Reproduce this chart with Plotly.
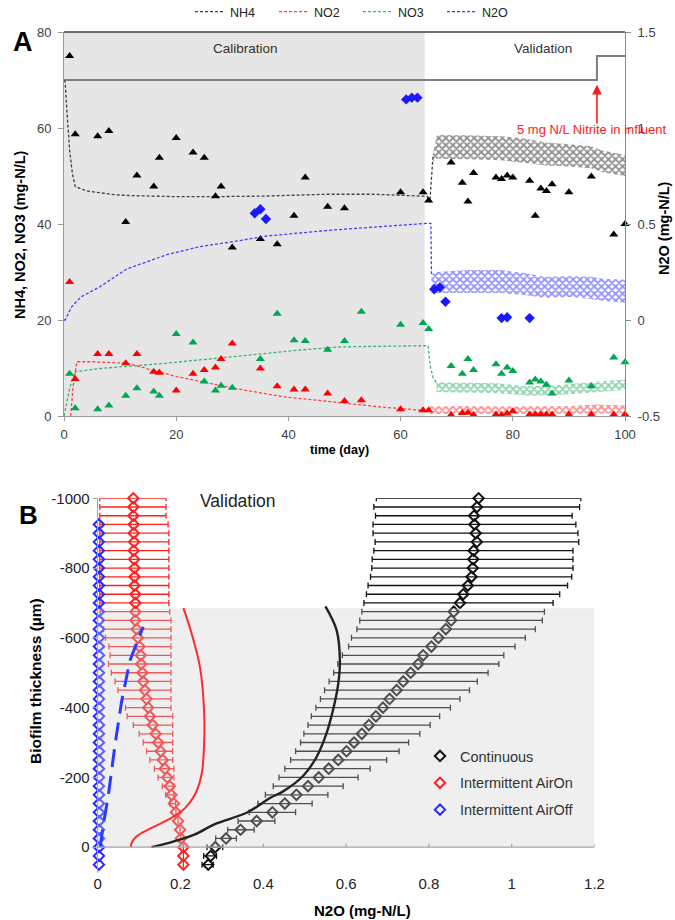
import plotly.graph_objects as go

# ---------------- Panel A data (time in days) ----------------
nh4_day = [1, 2, 6, 8, 11, 13, 16, 17, 20, 23, 25, 27, 28, 30, 35, 38, 41, 43, 47, 50,
           60, 64, 65, 69, 71, 72, 73, 77, 78, 79, 80, 83, 84, 85, 86, 87, 90, 94, 98, 100]
nh4_obs = [75.0, 58.7, 58.3, 59.4, 40.4, 50.1, 47.8, 53.8, 57.9, 54.9, 53.8, 45.8, 47.8, 35.1, 36.9, 35.8, 41.7, 49.7, 43.6, 43.3,
           46.6, 46.6, 44.9, 52.8, 48.6, 44.7, 50.6, 49.7, 49.4, 50.1, 49.7, 49.0, 41.7, 47.4, 46.9, 48.3, 46.6, 49.9, 37.8, 40.0]

nox_day = [1, 2, 6, 8, 11, 13, 16, 17, 20, 23, 25, 27, 28, 30, 35, 38, 41, 43, 47, 50,
           53, 60, 64, 65, 69, 71, 72, 73, 77, 78, 79, 80, 83, 84, 85, 86, 87, 90, 94, 98, 100]
no2_obs = [27.9, 7.7, 12.9, 12.9, 11.0, 12.9, 9.2, 9.0, 5.3, 8.8, 9.6, 10.1, 11.9, 15.1, 9.9, 6.2, 5.5, 5.5, 4.7, 3.1,
           3.3, 1.4, 1.2, 1.2, 0.2, 0.6, 0.7, 0.2, 0.3, 0.2, 0.5, 1.0, 0.3, 0.3, 0.3, 0.3, 0.3, 0.3, 0.3, 0.3, 0.3]
no3_obs = [8.8, 1.6, 1.4, 2.2, 4.2, 5.8, 5.1, 4.2, 17.1, 15.3, 7.2, 5.3, 6.3, 5.9, 11.9, 21.3, 15.8, 15.6, 13.8, 15.6,
           21.7, 19.0, 19.4, 18.1, 10.4, 8.8, 11.9, 9.6, 10.8, 8.8, 10.1, 9.4, 7.0, 7.6, 7.2, 6.5, 4.7, 7.4, 6.2, 12.2, 11.2]

n2o_day = [34, 35, 36, 61, 62, 63, 66, 67, 68, 78, 79, 83]
n2o_obs = [0.556, 0.577, 0.526, 1.149, 1.158, 1.158, 0.16, 0.17, 0.095, 0.01, 0.014, 0.01]

# model (calibration) curves
nh4_mod_day = [0, 0.2, 0.5, 1.0, 1.5, 2, 4, 6.4, 9, 12.4, 20, 27, 35, 47, 55, 64, 64.7, 65.2, 65.8]
nh4_mod = [70, 69.6, 63.8, 55.4, 50.5, 47.8, 46.9, 46.5, 46.1, 45.9, 45.7, 45.7, 45.8, 46.2, 46.2, 45.8, 45.8, 44.5, 54.5]
no2_mod_day = [1.2, 1.6, 2.3, 5, 11.2, 20.1, 30.2, 39.1, 47.4, 56.3, 64.6, 65.2]
no2_mod = [0, 6, 11.3, 11.3, 11.0, 8.2, 5.8, 4.0, 3.0, 1.9, 1.1, 1.2]
no3_mod_day = [0, 0.5, 1.07, 1.96, 6.4, 18.3, 30.2, 42.1, 49.2, 57, 64.9, 65.3, 65.8, 66.4]
no3_mod = [0, 3, 6.1, 9.2, 9.9, 11.0, 12.4, 13.75, 14.4, 14.6, 14.65, 10.3, 8.0, 6.8]
n2o_mod_day = [0, 0.2, 1.4, 3, 6.4, 11.2, 18.3, 24.2, 30.2, 36.1, 48, 56, 64.6, 65.4, 65.5]
n2o_mod = [0.0, 0.0, 0.07, 0.12, 0.173, 0.266, 0.34, 0.382, 0.408, 0.4375, 0.469, 0.487, 0.503, 0.503, 0.24]

# model (validation) oscillation envelopes
nh4_band_day = [65.8, 66.5, 72, 78, 82, 86, 90, 94, 96, 100]
nh4_band_hi = [55.0, 58.6, 58.5, 58.3, 57.8, 57.0, 56.6, 56.2, 55.3, 54.4]
nh4_band_lo = [53.0, 53.6, 53.5, 53.3, 52.8, 52.2, 52.0, 51.6, 50.8, 50.0]
n2o_band_day = [65.5, 66.5, 72, 78, 82, 86, 90, 94, 96, 100]
n2o_band_hi = [0.24, 0.25, 0.26, 0.26, 0.245, 0.225, 0.23, 0.225, 0.215, 0.21]
n2o_band_lo = [0.14, 0.14, 0.14, 0.14, 0.13, 0.115, 0.12, 0.11, 0.10, 0.09]
no3_band_day = [66.4, 70, 77, 83, 88, 93, 100]
no3_band_hi = [7.2, 7.0, 6.8, 6.2, 6.4, 7.0, 7.6]
no3_band_lo = [5.0, 4.9, 4.8, 4.2, 4.4, 4.8, 5.4]
no2_band_day = [65.2, 70, 80, 90, 95, 100]
no2_band_hi = [2.0, 2.1, 2.0, 2.1, 2.4, 2.2]
no2_band_lo = [0.4, 0.5, 0.5, 0.5, 0.5, 0.5]

# influent indicator step line (left-axis units)
infl_day = [0, 95, 95, 100]
infl_lvl = [70, 70, 75, 75]
CALIB_END = 64.3
ARROW_DAY, ARROW_TIP, ARROW_TAIL = 95, 69.0, 60.6

# ---------------- Panel B data (depth in µm) ----------------
depth = [-1000, -975, -950, -925, -900, -875, -850, -825, -800, -775, -750, -725, -700, -675, -650,
         -625, -600, -575, -550, -525, -500, -475, -450, -425, -400, -375, -350, -325, -300, -275,
         -250, -225, -200, -175, -150, -125, -100, -75, -50, -25, 0, 25, 50]
cont_mean = [0.920, 0.916, 0.909, 0.910, 0.913, 0.916, 0.908, 0.907, 0.906, 0.903, 0.894, 0.883, 0.875, 0.860, 0.854,
             0.841, 0.823, 0.806, 0.786, 0.774, 0.756, 0.738, 0.722, 0.705, 0.689, 0.672, 0.655, 0.638, 0.619, 0.601,
             0.581, 0.558, 0.534, 0.508, 0.480, 0.452, 0.422, 0.384, 0.345, 0.310, 0.284, 0.273, 0.267]
cont_lo = [0.673, 0.667, 0.671, 0.665, 0.665, 0.670, 0.667, 0.663, 0.662, 0.659, 0.653, 0.649, 0.643, 0.638, 0.633,
           0.626, 0.613, 0.606, 0.591, 0.580, 0.570, 0.559, 0.548, 0.538, 0.527, 0.516, 0.508, 0.498, 0.490, 0.478,
           0.466, 0.452, 0.438, 0.424, 0.405, 0.387, 0.366, 0.339, 0.314, 0.285, 0.264, 0.256, 0.252]
cont_hi = [1.167, 1.164, 1.146, 1.155, 1.160, 1.162, 1.148, 1.148, 1.148, 1.145, 1.135, 1.116, 1.100, 1.079, 1.074,
           1.057, 1.033, 1.008, 0.981, 0.969, 0.943, 0.917, 0.898, 0.875, 0.852, 0.826, 0.803, 0.778, 0.751, 0.728,
           0.698, 0.658, 0.629, 0.593, 0.556, 0.518, 0.478, 0.428, 0.378, 0.335, 0.302, 0.287, 0.279]
on_mean = [0.086, 0.086, 0.086, 0.087, 0.087, 0.088, 0.087, 0.088, 0.089, 0.089, 0.089, 0.091, 0.091, 0.091, 0.091,
           0.094, 0.097, 0.101, 0.104, 0.105, 0.108, 0.110, 0.114, 0.118, 0.122, 0.126, 0.133, 0.140, 0.146, 0.152,
           0.157, 0.162, 0.168, 0.174, 0.178, 0.184, 0.189, 0.194, 0.199, 0.201, 0.207, 0.207, 0.207]
on_lo = [0.005, 0.005, 0.005, 0.005, 0.005, 0.005, 0.005, 0.005, 0.005, 0.005, 0.005, 0.005, 0.005, 0.006, 0.011,
         0.014, 0.019, 0.027, 0.030, 0.026, 0.033, 0.042, 0.049, 0.061, 0.067, 0.071, 0.086, 0.100, 0.110, 0.118,
         0.126, 0.137, 0.146, 0.156, 0.164, 0.174, 0.189, 0.194, 0.199, 0.201, 0.207, 0.207, 0.207]
on_hi = [0.165, 0.165, 0.165, 0.170, 0.172, 0.172, 0.172, 0.172, 0.172, 0.172, 0.172, 0.172, 0.172, 0.174, 0.177,
         0.177, 0.177, 0.177, 0.177, 0.177, 0.177, 0.177, 0.177, 0.177, 0.177, 0.181, 0.181, 0.181, 0.181, 0.181,
         0.181, 0.184, 0.184, 0.184, 0.184, 0.188, 0.189, 0.194, 0.199, 0.201, 0.207, 0.207, 0.207]
off_depth = [-925, -900, -875, -850, -825, -800, -775, -750, -725, -700, -675, -650, -625, -600, -575,
             -550, -525, -500, -475, -450, -425, -400, -375, -350, -325, -300, -275, -250, -225, -200,
             -175, -150, -125, -100, -75, -50, -25, 0, 25, 50]
off_mean = [0.003, 0.003, 0.003, 0.003, 0.003, 0.003, 0.003, 0.003, 0.003, 0.003, 0.003, 0.003, 0.003, 0.003, 0.003,
            0.003, 0.003, 0.003, 0.003, 0.003, 0.003, 0.003, 0.003, 0.003, 0.003, 0.003, 0.003, 0.003, 0.003, 0.003,
            0.003, 0.003, 0.003, 0.003, 0.003, 0.003, 0.003, 0.003, 0.003, 0.003]

cont_mod_depth = [0, -16, -37, -66, -100, -141, -160, -204, -257, -324, -391, -468, -535, -622, -690]
cont_mod = [0.130, 0.182, 0.235, 0.283, 0.362, 0.416, 0.448, 0.496, 0.528, 0.552, 0.568, 0.581, 0.585, 0.577, 0.550]
on_mod_depth = [0, -12, -31, -55, -84, -112, -151, -209, -295, -391, -516, -612, -685]
on_mod = [0.080, 0.082, 0.094, 0.130, 0.178, 0.211, 0.235, 0.251, 0.257, 0.257, 0.247, 0.227, 0.207]
off_mod_depth = [0, -64, -151, -295, -420, -535, -584, -632]
off_mod = [0.006, 0.0135, 0.026, 0.042, 0.058, 0.078, 0.094, 0.110]
SHADE_TOP = -685
SHADE_X = 1.2

xticks_a = [0, 20, 40, 60, 80, 100]
yticks_a = [0, 20, 40, 60, 80]
y2ticks = [-0.5, 0, 0.5, 1, 1.5]
y2text = ["-0.5", "0", "0.5", "1", "1.5"]
xticks_b = [0, 0.2, 0.4, 0.6, 0.8, 1, 1.2]
xtext_b = ["0", "0.2", "0.4", "0.6", "0.8", "1", "1.2"]
yticks_b = [-1000, -800, -600, -400, -200, 0]
ytext_b = ["-1000", "-800", "-600", "-400", "-200", "0"]

FONT = "Liberation Sans, Arial, sans-serif"
W, H = 675, 920
RED = "#ff2020"
GREEN = "#1fa85a"
BLUE = "#2828ff"

fig = go.Figure()


def band(xs, lo, hi, color, yaxis="y"):
    fig.add_trace(go.Scatter(
        x=xs + xs[::-1], y=hi + lo[::-1], xaxis="x", yaxis=yaxis,
        mode="lines", line=dict(width=0), fill="toself",
        fillcolor="rgba(0,0,0,0)",
        fillpattern=dict(shape="x", fgcolor=color, bgcolor="rgba(0,0,0,0)",
                         size=5, solidity=0.6, fillmode="overlay"),
        showlegend=False, hoverinfo="skip"))


# influent step line
fig.add_trace(go.Scatter(x=infl_day, y=infl_lvl, mode="lines", line=dict(color="#7f7f7f", width=2),
                         showlegend=False, hoverinfo="skip"))

band(nh4_band_day, nh4_band_lo, nh4_band_hi, "#222222")
band(n2o_band_day, n2o_band_lo, n2o_band_hi, BLUE, "y2")
band(no3_band_day, no3_band_lo, no3_band_hi, GREEN)
band(no2_band_day, no2_band_lo, no2_band_hi, RED)

fig.add_trace(go.Scatter(x=nh4_mod_day, y=nh4_mod, mode="lines", name="NH4",
                         line=dict(color="#404040", width=1.3, dash="3px,2px"), legend="legend"))
fig.add_trace(go.Scatter(x=no2_mod_day, y=no2_mod, mode="lines", name="NO2",
                         line=dict(color="#ff4040", width=1.3, dash="3px,2px"), legend="legend"))
fig.add_trace(go.Scatter(x=no3_mod_day, y=no3_mod, mode="lines", name="NO3",
                         line=dict(color="#3cb371", width=1.3, dash="3px,2px"), legend="legend"))
fig.add_trace(go.Scatter(x=n2o_mod_day, y=n2o_mod, mode="lines", name="N2O", yaxis="y2",
                         line=dict(color="#4040ff", width=1.3, dash="3px,2px"), legend="legend"))

mk = dict(size=8, symbol="triangle-up")
fig.add_trace(go.Scatter(x=nh4_day, y=nh4_obs, mode="markers", marker=dict(color="#000000", **mk),
                         showlegend=False, cliponaxis=False))
fig.add_trace(go.Scatter(x=nox_day, y=no2_obs, mode="markers", marker=dict(color="#ff0000", **mk),
                         showlegend=False, cliponaxis=False))
fig.add_trace(go.Scatter(x=nox_day, y=no3_obs, mode="markers", marker=dict(color="#00a651", **mk),
                         showlegend=False, cliponaxis=False))
fig.add_trace(go.Scatter(x=n2o_day, y=n2o_obs, mode="markers", yaxis="y2",
                         marker=dict(color="#1a1aff", size=8, symbol="diamond"),
                         showlegend=False, cliponaxis=False))

# ---------------- Panel B traces ----------------
def err(mean, lo, hi):
    plus = [h - m for m, h in zip(mean, hi)]
    minus = [m - l for m, l in zip(mean, lo)]
    return plus, minus


cp, cm = err(cont_mean, cont_lo, cont_hi)
fig.add_trace(go.Scatter(x=cont_mean, y=depth, xaxis="x2", yaxis="y3", mode="markers", name="Continuous",
                         marker=dict(symbol="diamond-open", size=8, color="#111111", line=dict(width=2)),
                         error_x=dict(type="data", array=cp, arrayminus=cm, color="#111111", thickness=1.3, width=3),
                         legend="legend2", legendgroup="g1", cliponaxis=False))
op, om = err(on_mean, on_lo, on_hi)
fig.add_trace(go.Scatter(x=on_mean, y=depth, xaxis="x2", yaxis="y3", mode="markers", name="Intermittent AirOn",
                         marker=dict(symbol="diamond-open", size=8, color=RED, line=dict(width=2)),
                         error_x=dict(type="data", array=op, arrayminus=om, color=RED, thickness=1.3, width=3),
                         legend="legend2", legendgroup="g2", cliponaxis=False))
fig.add_trace(go.Scatter(x=off_mean, y=off_depth, xaxis="x2", yaxis="y3", mode="markers", name="Intermittent AirOff",
                         marker=dict(symbol="diamond-open", size=8, color=BLUE, line=dict(width=2)),
                         legend="legend2", legendgroup="g3", cliponaxis=False))

# translucent shaded zone (drawn over the data points, under the curves)
fig.add_trace(go.Scatter(x=[0, SHADE_X, SHADE_X, 0, 0], y=[0, 0, SHADE_TOP, SHADE_TOP, 0],
                         xaxis="x2", yaxis="y3", mode="lines", line=dict(width=0), fill="toself",
                         fillcolor="rgba(205,205,205,0.33)", showlegend=False, hoverinfo="skip"))

fig.add_trace(go.Scatter(x=off_mod, y=off_mod_depth, xaxis="x2", yaxis="y3", mode="lines",
                         line=dict(color="#2a3cff", width=3, dash="18px,9px"), showlegend=False))
fig.add_trace(go.Scatter(x=on_mod, y=on_mod_depth, xaxis="x2", yaxis="y3", mode="lines",
                         line=dict(color="#ff2a2a", width=2, shape="spline"), showlegend=False))
fig.add_trace(go.Scatter(x=cont_mod, y=cont_mod_depth, xaxis="x2", yaxis="y3", mode="lines",
                         line=dict(color="#222222", width=2.4, shape="spline"), showlegend=False))

# ---------------- shapes ----------------
shapes = [
    dict(type="rect", xref="x", yref="y domain", x0=0, x1=CALIB_END, y0=0, y1=1,
         fillcolor="#e6e6e6", line=dict(width=0), layer="below"),
    dict(type="line", xref="x domain", yref="y domain", x0=0, x1=1, y0=1, y1=1,
         line=dict(color="#404040", width=1.3)),
    dict(type="line", xref="x2", yref="y3", x0=0, x1=SHADE_X, y0=0, y1=0,
         line=dict(color="#a6a6a6", width=1.3)),
]
for t in xticks_b[1:]:
    shapes.append(dict(type="line", xref="x2", yref="y3", x0=t, x1=t, y0=0, y1=-10,
                       line=dict(color="#a6a6a6", width=1.3)))


def px_x(p):
    return p / W


def px_y(p):
    return 1 - p / H


ann = [
    dict(text="<b>A</b>", x=px_x(23), y=px_y(42), font=dict(size=27)),
    dict(text="<b>B</b>", x=px_x(28), y=px_y(515), font=dict(size=26)),
    dict(text="Calibration", x=px_x(245), y=px_y(48), font=dict(size=13.5, color="#333333")),
    dict(text="Validation", x=px_x(543), y=px_y(48), font=dict(size=13.5, color="#333333")),
    dict(text="5 mg N/L Nitrite in influent", x=px_x(591), y=px_y(129), font=dict(size=13, color="#ff2020")),
    dict(text="<b>NH4, NO2, NO3 (mg-N/L)</b>", x=px_x(20), y=px_y(235), textangle=-90, font=dict(size=14.5)),
    dict(text="<b>N2O (mg-N/L)</b>", x=px_x(664), y=px_y(228), textangle=-90, font=dict(size=14.5)),
    dict(text="<b>time (day)</b>", x=px_x(340), y=px_y(450), font=dict(size=12.5)),
    dict(text="Validation", x=px_x(238), y=px_y(501), font=dict(size=17.5, color="#222222")),
    dict(text="<b>Biofilm thickness (µm)</b>", x=px_x(35), y=px_y(681), textangle=-90, font=dict(size=15.5)),
    dict(text="<b>N2O (mg-N/L)</b>", x=px_x(362), y=px_y(910), font=dict(size=15)),
]
for a in ann:
    a.update(xref="paper", yref="paper", showarrow=False, xanchor="center", yanchor="middle")
ann.append(dict(x=ARROW_DAY, y=ARROW_TIP, ax=ARROW_DAY, ay=ARROW_TAIL, xref="x", yref="y",
                axref="x", ayref="y", text="", showarrow=True, arrowhead=2, arrowsize=1.2,
                arrowwidth=1.6, arrowcolor="#ff1a1a"))

axis_common = dict(showgrid=False, zeroline=False, automargin=False,
                   tickfont=dict(family=FONT, size=13, color="#404040"))

fig.update_layout(
    width=W, height=H, margin=dict(l=0, r=0, t=0, b=0, autoexpand=False),
    paper_bgcolor="white", plot_bgcolor="white",
    font=dict(family=FONT, color="#000000"),
    xaxis=dict(domain=[px_x(64), px_x(625)], anchor="y", range=[0, 100], tickvals=xticks_a,
               showline=True, linecolor="#999999", ticks="outside", ticklen=4, tickcolor="#999999",
               ticklabelstandoff=2, **axis_common),
    yaxis=dict(domain=[px_y(416), px_y(32)], anchor="x", range=[0, 80], tickvals=yticks_a,
               showline=True, linecolor="#999999", ticks="outside", ticklen=5, tickcolor="#999999",
               ticklabelstandoff=4, **axis_common),
    yaxis2=dict(overlaying="y", side="right", anchor="x", range=[-0.5, 1.5], tickvals=y2ticks, ticktext=y2text,
                showline=True, linecolor="#888888", ticks="outside", ticklen=5, tickcolor="#888888",
                ticklabelstandoff=4, **axis_common),
    xaxis2=dict(domain=[px_x(97.7), px_x(594.5)], anchor="y3", range=[0, 1.2], tickvals=xticks_b, ticktext=xtext_b,
                showline=False, ticks="", showgrid=False, zeroline=False, automargin=False,
                tickfont=dict(family=FONT, size=15, color="#222222")),
    yaxis3=dict(domain=[px_y(873), px_y(498.3)], anchor="x2", range=[74, -1000], tickvals=yticks_b, ticktext=ytext_b,
                showline=True, linecolor="#a6a6a6", ticks="outside", ticklen=4, tickcolor="#a6a6a6",
                showgrid=False, zeroline=False, automargin=False,
                tickfont=dict(family=FONT, size=15, color="#222222")),
    legend=dict(orientation="h", x=px_x(190), xanchor="left", y=px_y(-3), yanchor="top",
                font=dict(family=FONT, size=12.5, color="#222222"), bgcolor="rgba(0,0,0,0)",
                entrywidth=39, entrywidthmode="pixels", itemwidth=30),
    legend2=dict(x=px_x(420), xanchor="left", y=px_y(740), yanchor="top",
                 font=dict(family=FONT, size=14.5, color="#333333"), bgcolor="rgba(0,0,0,0)",
                 tracegroupgap=5, itemwidth=30),
    shapes=shapes, annotations=ann, showlegend=True,
)

fig.write_html("out.html", config={"displayModeBar": False},
               post_script="document.body.style.margin='0';document.body.style.overflow='hidden';")
